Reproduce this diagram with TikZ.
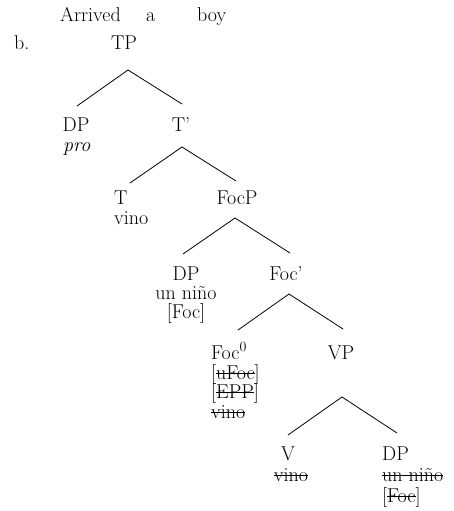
\documentclass[tikz,border=0pt]{standalone}
\usetikzlibrary{calc}
% struck-through text: the box is drawn with a rule across its middle
\newcommand{\struck}[1]{\setbox0=\hbox{#1}\rlap{\rule[0.24em]{\wd0}{0.055em}}\box0}
\begin{document}
\begin{tikzpicture}[x=1pt,y=-1pt,
  every node/.style={inner sep=0pt,font=\fontsize{20}{22}\selectfont},
  cat/.style={anchor=base},
  catw/.style={anchor=base west},
  branch/.style={line width=0.8pt,line cap=round}]
\useasboundingbox (0,0) rectangle (453,511);

% gloss line and example label
\node[catw] (g1) at (60,22) {Arrived};
\node[catw] (g2) at (146,22) {a};
\node[catw] (g3) at (197,22) {boy};
\node[catw] (ex) at (14,49) {b.};

% tree nodes
\node[cat]  (TP)   at (124,49)  {TP};
\node[cat]  (DP1)  at (76,131)  {DP};
\node[catw] (pro)  at (63,151)  {\itshape pro};
\node[cat]  (Tbar) at (181,131) {T’};
\node[catw] (T)    at (114,204) {T};
\node[catw] (Tv)   at (114,224) {vino};
\node[cat]  (FocP) at (237,204) {FocP};
\node[cat]  (DP2)  at (186,280) {DP};
\node[cat]  (DP2a) at (186,299) {un niño};
\node[cat]  (DP2b) at (186,318) {[Foc]};
\node[cat]  (Focb) at (286,280) {Foc’};
\node[catw] (Foc0) at (211,359) {Foc\textsuperscript{0}};
\node[catw] (F1)   at (211,379) {[\struck{uFoc}]};
\node[catw] (F2)   at (211,398) {[\struck{EPP}]};
\node[catw] (F3)   at (211,418) {\struck{vino}};
\node[cat]  (VP)   at (341,359) {VP};
\node[cat]  (V)    at (288,460) {V};
\node[cat]  (Vv)   at (291,481) {\struck{vino}};
\node[catw] (DP3)  at (382,460) {DP};
\node[catw] (DP3a) at (382,481) {\struck{un niño}};
\node[catw] (DP3b) at (382,502) {[\struck{Foc}]};

% branches
\draw[branch] ($(TP.base)+(4,21)$)   -- ($(DP1.base)+(1,-25)$);
\draw[branch] ($(TP.base)+(4,21)$)   -- ($(Tbar.base)+(1,-27)$);
\draw[branch] ($(Tbar.base)+(1,16)$) -- ($(T.base west)+(16,-21)$);
\draw[branch] ($(Tbar.base)+(1,16)$) -- ($(FocP.base)+(-1,-23)$);
\draw[branch] ($(FocP.base)+(-2,14)$) -- ($(DP2.base)+(-3,-26)$);
\draw[branch] ($(FocP.base)+(-2,14)$) -- ($(Focb.base)+(4,-27)$);
\draw[branch] ($(Focb.base)+(3,14)$) -- ($(Foc0.base west)+(27,-29)$);
\draw[branch] ($(Focb.base)+(3,14)$) -- ($(VP.base)+(2,-30)$);
\draw[branch] ($(VP.base)+(1,38)$)   -- ($(V.base)+(0,-25)$);
\draw[branch] ($(VP.base)+(1,38)$)   -- ($(DP3.base west)+(15,-27)$);
\end{tikzpicture}
\end{document}
